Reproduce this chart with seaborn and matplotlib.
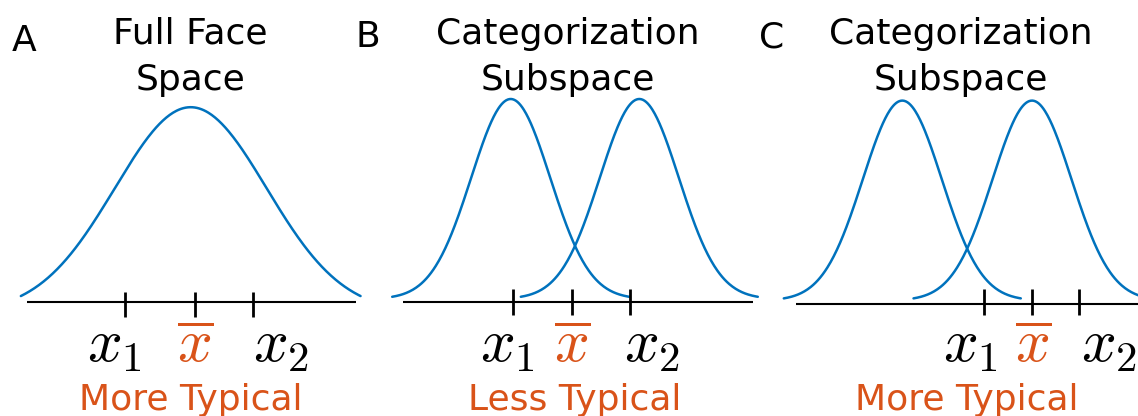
import numpy as np
import pandas as pd
import matplotlib
matplotlib.use("Agg")
import matplotlib.pyplot as plt
import seaborn as sns

sns.set_theme(style="white")
plt.rcParams["font.family"] = ["DejaVu Sans"]
plt.rcParams["mathtext.fontset"] = "cm"
plt.rcParams["text.color"] = "black"

BLUE = "#0072BD"
ORANGE = "#D95319"

# ---- panel content -------------------------------------------------------
panel_letters = ["A", "B", "C"]
panel_titles = ["Full Face\nSpace", "Categorization\nSubspace", "Categorization\nSubspace"]
verdicts = ["More Typical", "Less Typical", "More Typical"]

# Gaussian components of each panel (x in units of the category s.d.)
means_a = [0.0]
means_b = [-1.628, 1.628]
means_c = [-1.638, 1.646]
sigmas = [1.92, 1.0, 1.0]
half_spans = [4.30, 3.0, 3.0]
peak_heights = [1.028, 1.0, 1.0]
baselines = [-0.064, 0.005, -0.003]

# marked faces on the axis: x1, average face, x2
ticks_a = [-1.656, 0.109, 1.585]
ticks_b = [-1.562, -0.076, 1.392]
ticks_c = [0.423, 1.653, 2.835]
tick_labels = [r"$x_1$", r"$\overline{x}$", r"$x_2$"]
label_colors = ["black", ORANGE, "black"]
label_pos_a = [-1.93, 0.12, 2.29]
label_pos_b = [-1.71, -0.06, 1.94]
label_pos_c = [0.09, 1.68, 3.59]

axis_span_a = [-4.14, 4.19]
axis_span_b = [-4.35, 4.50]
axis_span_c = [-4.34, 4.80]
axis_levels = [-0.010, -0.010, -0.018]
tick_ranges = [(0.042, -0.085), (0.055, -0.075), (0.055, -0.075)]

letter_pos = [-4.21, -5.24, -4.94]
letter_y = [1.245, 1.265, 1.265]
title_pos = [0.0, -0.19, -0.165]

# horizontal centre of each panel on the canvas (fraction of width)
panel_centres = [190.7 / 1138, 575.0 / 1138, 967.0 / 1138]

means = [means_a, means_b, means_c]
ticks = [ticks_a, ticks_b, ticks_c]
label_pos = [label_pos_a, label_pos_b, label_pos_c]
axis_spans = [axis_span_a, axis_span_b, axis_span_c]

XLIM = (-4.8, 4.8)
YLIM = (-0.58, 1.5)
UNIT_FRAC = 39.5 / 1138  # width of one x unit as a fraction of the canvas

fig = plt.figure(figsize=(11.38, 4.16), dpi=100)

for i in range(3):
    width = (XLIM[1] - XLIM[0]) * UNIT_FRAC
    ax = fig.add_axes([panel_centres[i] - width / 2, 0, width, 1])
    ax.set_xlim(*XLIM)
    ax.set_ylim(*YLIM)
    ax.axis("off")
    ax.patch.set_alpha(0)

    rows = []
    for k, m in enumerate(means[i]):
        xs = np.linspace(m - half_spans[i], m + half_spans[i], 300)
        ys = baselines[i] + peak_heights[i] * np.exp(-0.5 * ((xs - m) / sigmas[i]) ** 2)
        rows.append(pd.DataFrame({"x": xs, "y": ys, "component": k}))
    df = pd.concat(rows, ignore_index=True)
    sns.lineplot(data=df, x="x", y="y", units="component", estimator=None,
                 sort=False, color=BLUE, linewidth=1.8, ax=ax, legend=False)

    # feature axis with tick marks
    ax.hlines(axis_levels[i], axis_spans[i][0], axis_spans[i][1],
              color="black", linewidth=1.5)
    ax.vlines(ticks[i], tick_ranges[i][1], tick_ranges[i][0],
              color="black", linewidth=2.0)

    for lab, pos, col in zip(tick_labels, label_pos[i], label_colors):
        ax.text(pos, -0.31, lab, color=col, fontsize=44,
                ha="center", va="baseline")

    ax.text(0.0, -0.55, verdicts[i], color=ORANGE,
            fontsize=26, ha="center", va="baseline")
    ax.text(title_pos[i], 1.05, panel_titles[i], fontsize=26, color="black",
            ha="center", va="baseline", linespacing=1.45)
    ax.text(letter_pos[i], letter_y[i], panel_letters[i], fontsize=26,
            color="black", ha="center", va="baseline")

fig.savefig("out.png", dpi=100)
